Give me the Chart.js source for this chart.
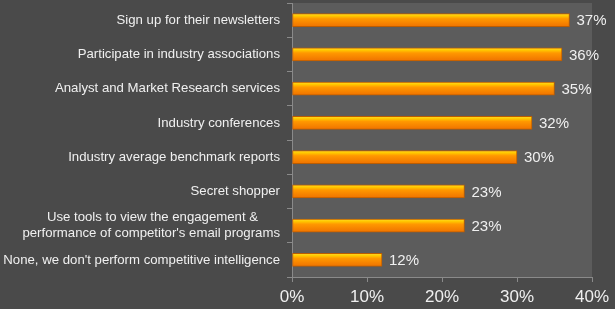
<!DOCTYPE html>
<html>
<head>
<meta charset="utf-8">
<script src="https://cdn.jsdelivr.net/npm/chart.js@4"></script>
<style>
  html, body { margin: 0; padding: 0; background: #4a4a4a; }
  canvas { display: block; }
</style>
</head>
<body>
<canvas id="myChart" width="615" height="309"></canvas>
<script>
// Competitive intelligence methods, share of respondents
const categories = [
  'Sign up for their newsletters',
  'Participate in industry associations',
  'Analyst and Market Research services',
  'Industry conferences',
  'Industry average benchmark reports',
  'Secret shopper',
  ['Use tools to view the engagement &      ', "performance of competitor's email programs"],
  "None, we don't perform competitive intelligence"
];
const values = [37, 36, 35, 32, 30, 23, 23, 12];
const tickLabels = ['0%', '10%', '20%', '30%', '40%'];

window.addEventListener('load', setup);

function barFill(c) {
  const y = c.chart.scales.y;
  if (!y) return '#ff9900';
  const cy = y.getPixelForValue(c.dataIndex);
  if (!isFinite(cy)) return '#ff9900';
  const g = c.chart.ctx.createLinearGradient(0, cy - 7, 0, cy + 7);
  g.addColorStop(0, '#ffdc40');
  g.addColorStop(0.18, '#ffcc00');
  g.addColorStop(0.4, '#ff9800');
  g.addColorStop(1, '#ee7000');
  return g;
}

const plotBg = {
  id: 'plotBg',
  beforeDraw(chart) {
    const { ctx, chartArea: a } = chart;
    ctx.save();
    ctx.fillStyle = '#5c5c5c';
    ctx.fillRect(a.left, a.top, a.right - a.left, a.bottom - a.top);
    ctx.restore();
  }
};

const valueLabels = {
  id: 'valueLabels',
  afterDatasetsDraw(chart) {
    const ctx = chart.ctx;
    const meta = chart.getDatasetMeta(0);
    ctx.save();
    ctx.font = '15px "Liberation Sans", Arial, sans-serif';
    ctx.fillStyle = '#f0f0f0';
    ctx.textAlign = 'left';
    ctx.textBaseline = 'middle';
    meta.data.forEach((bar, i) => {
      ctx.fillText(values[i] + '%', bar.x + 7, bar.y + 1);
    });
    ctx.restore();
  }
};

function setup() {
  const ctx = document.getElementById('myChart').getContext('2d');
  const chart = new Chart(ctx, {
    type: 'bar',
    data: {
      labels: categories,
      datasets: [
        {
          data: values,
          backgroundColor: barFill,
          borderColor: '#bb5c00',
          borderWidth: 1,
          borderSkipped: false,
          barThickness: 13
        }
      ]
    },
    plugins: [plotBg, valueLabels],
    options: {
      indexAxis: 'y',
      responsive: false,
      animation: false,
      layout: { padding: { top: 3, right: 23, left: 0, bottom: 0 } },
      plugins: {
        legend: { display: false },
        tooltip: { enabled: false }
      },
      scales: {
        x: {
          min: 0,
          max: 40,
          ticks: {
            stepSize: 10,
            color: '#f0f0f0',
            padding: 5,
            font: { family: '"Liberation Sans", Arial, sans-serif', size: 17 },
            callback: (v, i) => tickLabels[i]
          },
          grid: { drawOnChartArea: false, color: '#8a8a8a', tickLength: 5 },
          border: { color: '#8a8a8a' },
          afterFit: s => { s.height = 32; }
        },
        y: {
          ticks: {
            color: '#f0f0f0',
            padding: 7,
            autoSkip: false,
            font: { family: '"Liberation Sans", Arial, sans-serif', size: 13.2 }
          },
          grid: { drawOnChartArea: false, color: '#8a8a8a', tickLength: 5 },
          border: { color: '#8a8a8a' },
          afterFit: s => { s.width = 292; s.paddingTop = 0; s.paddingBottom = 0; }
        }
      }
    }
  });
  // redraw once so the gradients use the laid-out scale
  chart.update();
}
</script>
</body>
</html>
